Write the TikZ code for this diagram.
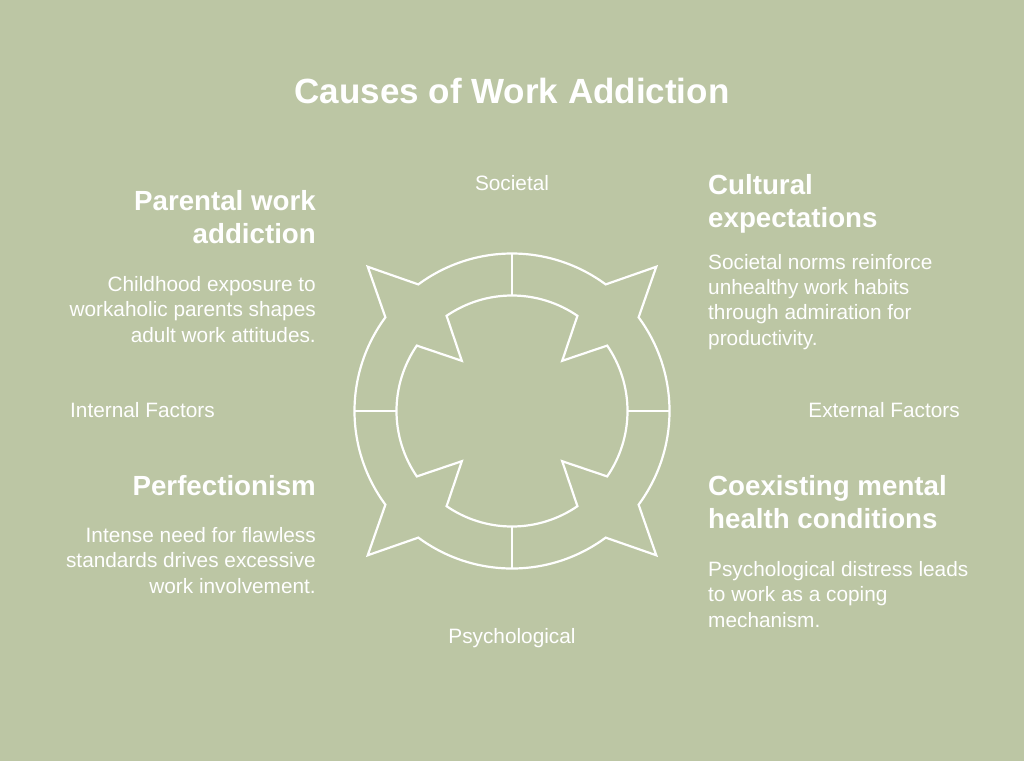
\documentclass[tikz,border=0pt]{standalone}
\usepackage{fontspec}
\setmainfont{Liberation Sans}
\usetikzlibrary{positioning}
\definecolor{sagebg}{RGB}{188,198,164}

\begin{document}
\begin{tikzpicture}[x=1pt, y=-1pt,
    heading/.style={text=white, inner sep=0pt, font={\fontsize{27.7}{33}\selectfont\bfseries}},
    body/.style={text=white, inner sep=0pt, font={\fontsize{20.8}{25.3}\selectfont}},
    ringline/.style={draw=white, line width=2.2pt, line join=miter}]

    % Background
    \fill[sagebg] (0, 0) rectangle (1024, 761);

    % Title
    \node[anchor=base, text=white, font={\fontsize{35}{40}\selectfont\bfseries}] (title) at (512, 103) {Causes of Work Addiction};

    % Ring with arrow tips
    \begin{scope}[shift={(512, 411)}]
        \draw[ringline] (0:157.5) \foreach \a in {0, 90, 180, 270} {
            arc[start angle=\a, end angle=\a+36.5, radius=157.5] -- (\a+45:204) -- (\a+53.5:157.5)
            arc[start angle=\a+53.5, end angle=\a+90, radius=157.5]
        } -- cycle;
        \draw[ringline] (0:115.5) \foreach \a in {0, 90, 180, 270} {
            arc[start angle=\a, end angle=\a+34.5, radius=115.5] -- (\a+45:71) -- (\a+55.5:115.5)
            arc[start angle=\a+55.5, end angle=\a+90, radius=115.5]
        } -- cycle;
        % Dividers
        \foreach \a in {0, 90, 180, 270} {
            \draw[ringline] (\a:115.5) -- (\a:157.5);
        }
    \end{scope}

    % Axis labels
    \node[body, anchor=base] (societal) at (512, 190) {Societal};
    \node[body, anchor=base] (psych) at (512, 643) {Psychological};
    \node[body, anchor=base west] (internal) at (70, 417) {Internal Factors};
    \node[body, anchor=base east] (external) at (960, 417) {External Factors};

    % Left column (base = last line)
    \node[heading, anchor=base east, align=right] (parental) at (316, 243) {Parental work\\addiction};
    \node[body, anchor=base east, align=right] (parentaltxt) at (316, 342) {Childhood exposure to\\workaholic parents shapes\\adult work attitudes.};
    \node[heading, anchor=base east, align=right] (perfect) at (316, 495) {Perfectionism};
    \node[body, anchor=base east, align=right] (perfecttxt) at (316, 593) {Intense need for flawless\\standards drives excessive\\work involvement.};

    % Right column (base = last line)
    \node[heading, anchor=base west, align=left] (cultural) at (708, 227) {Cultural\\expectations};
    \node[body, anchor=base west, align=left] (culturaltxt) at (708, 345) {Societal norms reinforce\\unhealthy work habits\\through admiration for\\productivity.};
    \node[heading, anchor=base west, align=left] (mental) at (708, 528) {Coexisting mental\\health conditions};
    \node[body, anchor=base west, align=left] (mentaltxt) at (708, 627) {Psychological distress leads\\to work as a coping\\mechanism.};

\end{tikzpicture}
\end{document}
